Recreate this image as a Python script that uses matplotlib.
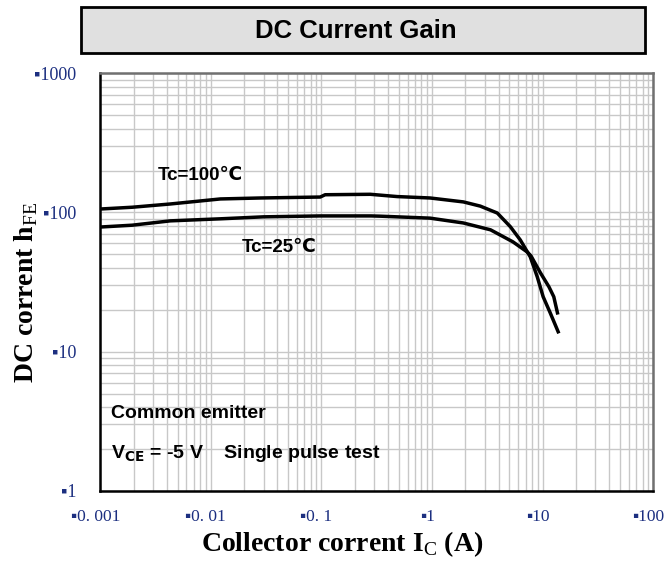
import matplotlib
matplotlib.use('Agg')
import matplotlib.pyplot as plt
import matplotlib.transforms as mtransforms
from matplotlib.patches import Rectangle

# Tc = 100 C curve (collector current A, hFE)
ic_100 = [0.00104, 0.00195, 0.0043, 0.0122, 0.028, 0.0975, 0.108, 0.276, 0.484, 0.96,
          1.92, 2.73, 3.89, 5.1, 6.27, 7.72, 8.93, 10.1, 11.7, 13.8]
hfe_100 = [106, 109, 115, 125, 127, 129, 134, 135, 130, 127,
           119, 111, 99, 79, 63.5, 48, 34.5, 24.8, 19, 13.9]

# Tc = 25 C curve
ic_25 = [0.00104, 0.00195, 0.0043, 0.0122, 0.03, 0.0975, 0.28, 0.34, 0.96, 1.92,
         3.38, 5.38, 7.25, 7.83, 9.55, 11.4, 12.6, 13.6]
hfe_25 = [78.7, 81, 87, 90, 93, 94.4, 94.4, 94, 91, 84,
          75, 61.5, 52, 48.8, 36.8, 29.2, 24.8, 19]

x_ticks = [0.001, 0.01, 0.1, 1, 10, 100]
x_ticklabels = ['0. 001', '0. 01', '0. 1', '1', '10', '100']
y_ticks = [1, 10, 100, 1000]
y_ticklabels = ['1', '10', '100', '1000']

plt.rcParams['mathtext.fontset'] = 'custom'
plt.rcParams['mathtext.rm'] = 'Liberation Serif'

fig = plt.figure(figsize=(6.68, 5.63), dpi=100)
ax = fig.add_axes([0.150, 0.128, 0.828, 0.742])

ax.plot(ic_100, hfe_100, color='black', lw=2.5)
ax.plot(ic_25, hfe_25, color='black', lw=2.5)

ax.set_xscale('log')
ax.set_yscale('log')
ax.set_xlim(0.001, 100)
ax.set_ylim(1, 1000)

ax.grid(True, which='both', color='#c8c8c8', lw=1.0)
ax.set_axisbelow(True)

tick_font = ['Liberation Serif', 'DejaVu Serif']
ax.set_xticks(x_ticks)
ax.set_xticklabels(['\u25aa' + s for s in x_ticklabels], family=tick_font,
                   fontsize=12.5, color='#1c2f80')
ax.set_yticks(y_ticks)
ax.set_yticklabels(['\u25aa' + s for s in y_ticklabels], family=tick_font,
                   fontsize=13, color='#1c2f80')
ax.tick_params(which='both', length=0)
ax.tick_params(axis='x', pad=13)
ax.tick_params(axis='y', pad=17)

# labels in the reference sit a little left of their ticks
shift = mtransforms.ScaledTranslation(-5 / 100, 0, fig.dpi_scale_trans)
for lbl in ax.get_xticklabels():
    lbl.set_transform(lbl.get_transform() + shift)

for side in ['left', 'bottom']:
    ax.spines[side].set_color('black')
    ax.spines[side].set_linewidth(1.8)
for side in ['top', 'right']:
    ax.spines[side].set_color('#707070')
    ax.spines[side].set_linewidth(1.8)

ax.set_xlabel(r'Collector corrent I$_{\mathrm{C}}$ (A)', family='Liberation Serif',
              fontweight='bold', fontsize=20)
ax.xaxis.set_label_coords(0.438, -0.092)
ax.set_ylabel(r'DC corrent h$_{\mathrm{FE}}$', family='Liberation Serif',
              fontweight='bold', fontsize=20)
ax.yaxis.set_label_coords(-0.108, 0.475)

sans = ['Liberation Sans', 'DejaVu Sans']
ax.text(0.0033, 184, 'Tc=100\u2103', family=sans, fontweight='bold', fontsize=13.5,
        va='center')
ax.text(0.019, 56, 'Tc=25\u2103', family=sans, fontweight='bold', fontsize=13.5,
        va='center')
ax.text(0.00125, 3.6, 'Common emitter', family=sans, fontweight='bold', fontsize=14,
        va='center')
ax.text(0.00125, 1.85, r'V$_{\mathbf{CE}}$ = -5 V    Single pulse test', family=sans,
        fontweight='bold', fontsize=14, va='center')

# title box
fig.patches.append(Rectangle((0.121, 0.906), 0.845, 0.082, transform=fig.transFigure,
                             facecolor='#e0e0e0', edgecolor='black', lw=2))
fig.text(0.532, 0.945, 'DC Current Gain', family=sans, fontweight='bold',
         fontsize=18.5, ha='center', va='center')

fig.savefig('out.png', dpi=100)
